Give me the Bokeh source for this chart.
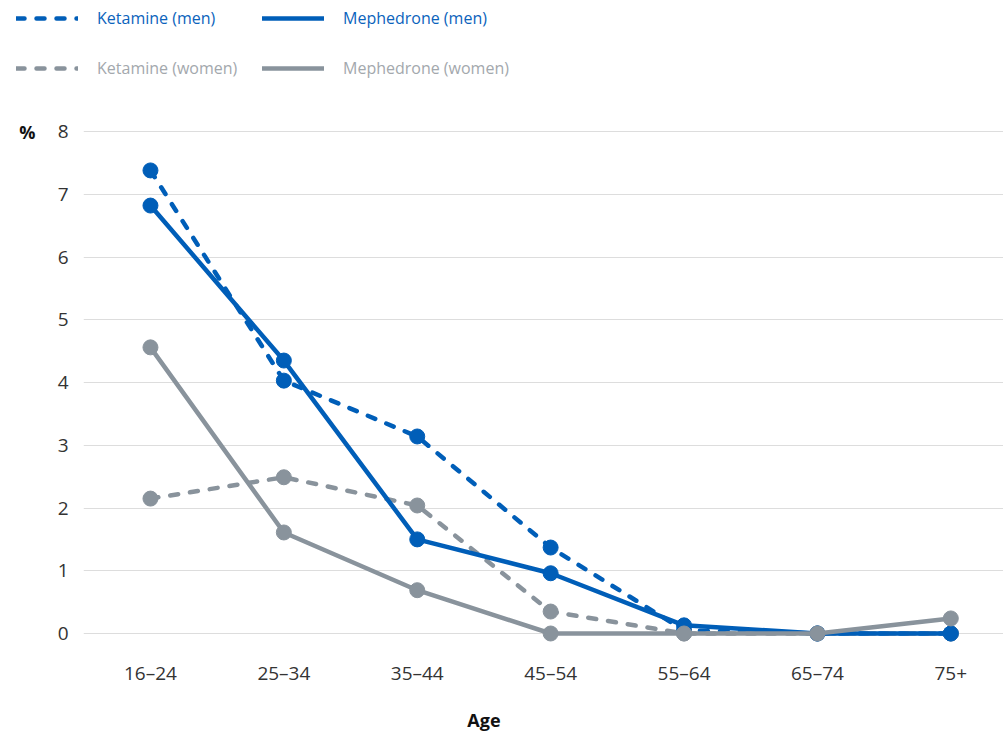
from bokeh.plotting import figure
from bokeh.layouts import column
from bokeh.models import (Range1d, FixedTicker, Legend, LegendItem, LinearAxis,
                          ColumnDataSource)
from bokeh.embed import file_html
from bokeh.resources import INLINE

# ---- data ----
age_groups = ["16–24", "25–34", "35–44", "45–54", "55–64", "65–74", "75+"]
ketamine_men = [7.38, 4.03, 3.14, 1.37, 0.05, 0.0, 0.0]
mephedrone_men = [6.82, 4.35, 1.50, 0.96, 0.13, 0.0, 0.0]
ketamine_women = [2.15, 2.49, 2.04, 0.35, 0.0, 0.0, 0.0]
mephedrone_women = [4.56, 1.61, 0.69, 0.0, 0.0, 0.0, 0.24]
y_ticks = [0, 1, 2, 3, 4, 5, 6, 7, 8]

BLUE = "#005EB8"
GREY = "#89939C"
BLUE_TXT = "#0B63BC"
GREY_TXT = "#A3A8AD"
FONT = "Open Sans"

xs = list(range(len(age_groups)))

series = [
    ("Ketamine (men)", ketamine_men, BLUE, "8 12"),
    ("Ketamine (women)", ketamine_women, GREY, "8 12"),
    ("Mephedrone (men)", mephedrone_men, BLUE, "solid"),
    ("Mephedrone (women)", mephedrone_women, GREY, "solid"),
]

# ---------- legend strip (its own small plot, data kept out of view) ----------
lf = figure(width=1003, height=110, output_backend="svg", toolbar_location=None,
            x_range=Range1d(100, 200), y_range=Range1d(100, 200),
            x_axis_type=None, y_axis_type=None,
            min_border_left=0, min_border_right=0, min_border_top=0,
            min_border_bottom=0)
lf.frame_align = False
lf.outline_line_color = None
lf.xgrid.grid_line_color = None
lf.ygrid.grid_line_color = None
lf_lines = {}
for name, vals, col, dash in series:
    lf_lines[name] = lf.line(xs, vals, line_color=col, line_width=4.5,
                             line_dash=dash, line_cap="round")

def make_legend(names, txt_color, vy):
    items = [LegendItem(label=n, renderers=[lf_lines[n]]) for n in names]
    lg = Legend(items=items, location=(16, vy), orientation="horizontal",
                glyph_width=62, glyph_height=20, label_height=20,
                label_standoff=19, label_width=150, spacing=15,
                padding=0, margin=0,
                label_text_font=FONT, label_text_font_size="16px",
                label_text_color=txt_color, border_line_color=None,
                background_fill_alpha=0)
    lf.add_layout(lg, "center")

make_legend(["Ketamine (men)", "Mephedrone (men)"], BLUE_TXT, 81)
make_legend(["Ketamine (women)", "Mephedrone (women)"], GREY_TXT, 31)

# ---------- main chart ----------
p = figure(width=1003, height=624, output_backend="svg", toolbar_location=None,
           x_range=Range1d(-0.502, 6.395), y_range=Range1d(-0.271, 8.335),
           min_border_left=83, min_border_right=0, min_border_top=0,
           min_border_bottom=84)
p.frame_align = False
p.outline_line_color = None

p.xaxis.ticker = FixedTicker(ticks=xs)
p.xaxis.major_label_overrides = {i: lab for i, lab in enumerate(age_groups)}
p.yaxis.ticker = FixedTicker(ticks=y_ticks)

def style_axis(ax, size, standoff, bold=False, color="#333333"):
    ax.axis_line_color = None
    ax.major_tick_line_color = None
    ax.minor_tick_line_color = None
    ax.major_tick_out = 0
    ax.major_tick_in = 0
    ax.major_label_text_font = FONT
    ax.major_label_text_font_size = size
    ax.major_label_text_color = color
    ax.major_label_standoff = standoff
    if bold:
        ax.major_label_text_font_style = "bold"

style_axis(p.xaxis[0], "19px", 9)
style_axis(p.yaxis[0], "19px", 15)

pct_axis = LinearAxis(ticker=FixedTicker(ticks=[8]),
                      major_label_overrides={8: "%"})
style_axis(pct_axis, "18px", 19, bold=True, color="#111111")
p.add_layout(pct_axis, "left")

age_axis = LinearAxis(ticker=FixedTicker(ticks=[2.5]),
                      major_label_overrides={2.5: "Age"})
style_axis(age_axis, "18px", 19, bold=True, color="#111111")
p.add_layout(age_axis, "below")

p.xgrid.grid_line_color = None
p.ygrid.grid_line_color = "#DDDDDD"
p.ygrid.grid_line_width = 1.2

for name, vals, col, dash in series:
    src = ColumnDataSource(dict(x=xs, y=vals))
    p.line("x", "y", source=src, line_color=col, line_width=4.5,
           line_dash=dash, line_cap="round", line_join="round")
    p.scatter("x", "y", source=src, size=15, fill_color=col, line_color=col)

layout = column(lf, p, spacing=0)
open("out.html", "w").write(file_html(layout, INLINE))
